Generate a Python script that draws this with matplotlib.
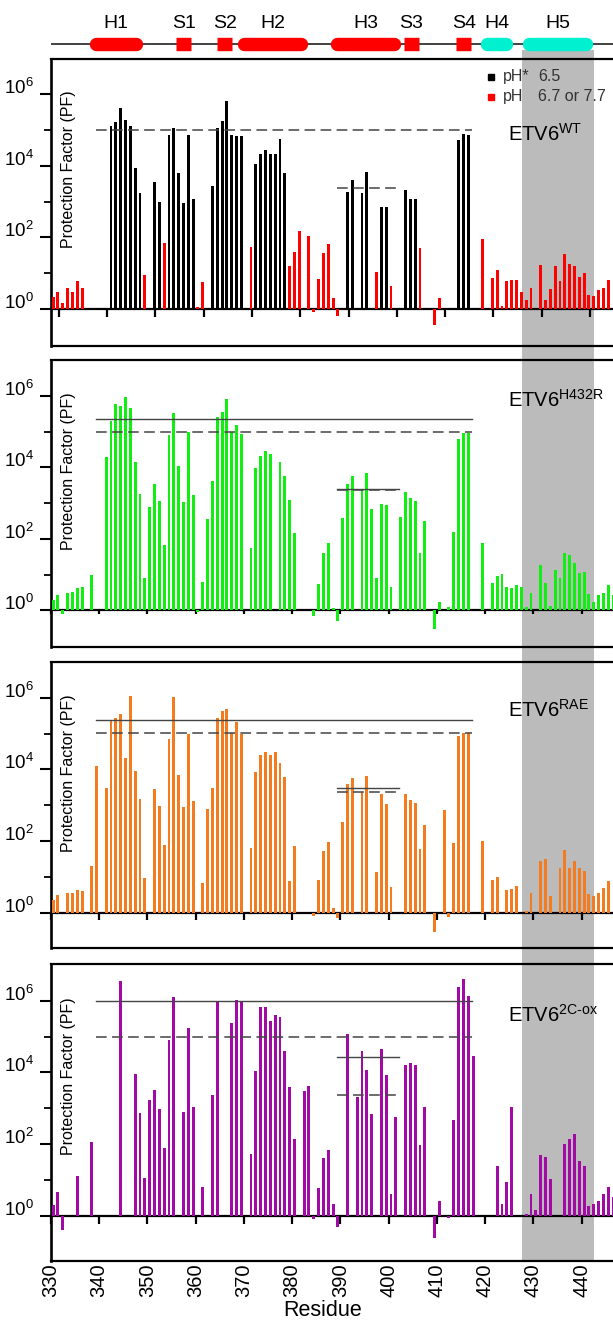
import matplotlib
matplotlib.use("Agg")
import matplotlib.pyplot as plt
import numpy as np

plt.rcParams['font.family'] = ['Liberation Sans', 'DejaVu Sans']
plt.rcParams['mathtext.fontset'] = 'custom'
plt.rcParams['mathtext.rm'] = 'Liberation Sans'
plt.rcParams['mathtext.it'] = 'Liberation Sans:italic'
plt.rcParams['mathtext.bf'] = 'Liberation Sans:bold'
plt.rcParams['mathtext.default'] = 'regular'

# ---------------- data: log10(protection factor) per residue ----------------
wt_ph65_res = [342, 343, 344, 345, 346, 347, 348, 351, 352, 354, 355, 356, 357, 358, 359,
               363, 364, 365, 366, 367, 368, 369, 372, 373, 374, 375, 376, 377, 378,
               391, 392, 394, 395, 398, 399, 403, 404, 405, 414, 415, 416]
wt_ph65_logpf = [5.11, 5.23, 5.60, 5.27, 5.12, 3.93, 3.25, 3.55, 3.00, 4.86, 5.06, 3.79, 2.97, 4.87, 3.07,
                 3.43, 5.06, 5.26, 5.80, 4.86, 4.84, 4.84, 4.05, 4.32, 4.44, 4.32, 4.32, 4.74, 3.80,
                 3.26, 3.60, 3.23, 3.83, 2.86, 2.86, 3.32, 3.07, 3.07, 4.72, 4.90, 4.87]

wt_ph77_res = [330, 331, 332, 333, 334, 335, 336, 349, 353, 360, 361, 371, 379, 380, 381, 383, 384,
               385, 386, 387, 388, 389, 397, 400, 406, 409, 410, 419, 421, 422, 423, 424, 425,
               426, 427, 428, 429, 431, 432, 433, 434, 435, 436, 437, 438, 439, 440, 441, 442,
               443, 444, 445]
wt_ph77_logpf = [0.33, 0.48, 0.16, 0.58, 0.47, 0.78, 0.58, 0.95, 1.85, 0.05, 0.76, 1.74, 1.21, 1.60,
                 2.19, 2.04, -0.09, 0.84, 1.57, 1.83, 0.32, -0.19, 1.04, 0.65, 1.71, -0.45, 0.30,
                 1.97, 0.86, 1.09, 0.08, 0.78, 0.81, 0.81, 0.47, 0.24, 0.60, 1.23, 0.24, 0.56,
                 1.21, 0.78, 1.54, 1.25, 1.21, 0.90, 1.02, 0.39, 0.37, 0.53, 0.60, 0.81]

h432r_res = [330, 331, 332, 333, 334, 335, 336, 338, 341, 342, 343, 344, 345, 346, 347, 348, 349,
             350, 351, 352, 353, 354, 355, 356, 357, 358, 359, 360, 361, 362, 363, 364, 365, 366,
             367, 368, 369, 371, 372, 373, 374, 375, 377, 378, 379, 380, 384, 385, 386, 387, 388,
             389, 390, 391, 392, 394, 395, 396, 397, 398, 399, 400, 402, 403, 404, 405, 406, 407,
             409, 410, 412, 413, 414, 415, 416, 419, 421, 422, 423, 424, 425, 426, 427, 428, 429,
             431, 432, 433, 434, 435, 436, 437, 438, 439, 440, 441, 442, 443, 444, 445, 446]
h432r_logpf = [0.30, 0.43, -0.11, 0.50, 0.51, 0.63, 0.67, 1.00, 4.28, 5.30, 5.77, 5.72, 5.98, 5.66,
               4.16, 3.26, 0.90, 2.89, 3.54, 3.05, 1.84, 4.91, 5.52, 4.05, 3.04, 4.99, 3.22, -0.05,
               0.81, 2.55, 3.61, 5.41, 5.55, 5.92, 4.99, 5.18, 4.92, 1.74, 3.98, 4.32, 4.45, 4.36,
               4.16, 3.76, 3.08, 2.16, -0.16, 0.74, 1.62, 1.88, 0.07, -0.28, 2.59, 3.54, 3.75,
               3.36, 3.83, 2.83, 0.91, 2.99, 2.95, 0.67, 2.60, 3.30, 3.14, 3.07, 1.62, 2.50,
               -0.53, 0.24, 0.09, 2.20, 4.80, 4.95, 4.95, 1.88, 0.78, 0.97, 1.03, 0.66, 0.64,
               0.70, 0.66, 0.11, 0.48, 1.28, 0.76, 0.13, 1.14, 0.92, 1.60, 1.54, 1.32, 1.06,
               1.07, 0.47, 0.25, 0.44, 0.50, 0.71, 0.44]

rae_res = [330, 331, 333, 334, 335, 336, 338, 339, 341, 342, 343, 344, 345, 346, 347, 348, 349,
           351, 352, 353, 354, 355, 356, 357, 358, 359, 361, 362, 363, 364, 365, 366, 367, 368,
           369, 371, 372, 373, 374, 375, 376, 377, 378, 379, 380, 384, 385, 386, 387, 388, 389,
           390, 391, 392, 394, 395, 397, 398, 399, 400, 403, 404, 405, 406, 407, 409, 411, 412,
           413, 414, 415, 416, 419, 421, 422, 424, 425, 426, 428, 429, 431, 432, 433, 435, 436,
           437, 438, 439, 440, 441, 442, 443, 444, 445]
rae_logpf = [0.35, 0.49, 0.54, 0.55, 0.63, 0.61, 1.30, 4.09, 3.48, 5.37, 5.44, 5.55, 4.31, 6.05,
             3.96, 3.18, 0.97, 3.45, 2.97, 1.88, 4.85, 6.02, 3.83, 2.94, 5.00, 3.13, 0.82, 2.90,
             3.49, 5.44, 5.64, 5.68, 5.03, 5.31, 5.00, 1.81, 3.93, 4.39, 4.49, 4.40, 4.49, 4.18,
             3.78, 0.89, 1.86, -0.09, 0.91, 1.72, 1.96, 0.14, -0.16, 2.52, 3.58, 3.76, 3.38,
             3.82, 1.14, 3.32, 3.02, 0.71, 3.32, 3.14, 3.05, 1.78, 2.46, -0.55, 2.86, -0.11,
             1.93, 4.94, 5.01, 5.01, 2.00, 0.90, 0.98, 0.63, 0.65, 0.75, 0.05, 0.56, 1.45, 1.51,
             0.45, 1.25, 1.75, 1.25, 1.44, 1.25, 1.17, 0.52, 0.46, 0.54, 0.69, 0.88]

ox_res = [330, 331, 332, 335, 338, 344, 347, 348, 349, 350, 351, 352, 353, 354, 355, 357, 358, 359,
          361, 363, 364, 367, 368, 369, 371, 372, 373, 374, 375, 376, 377, 378, 379, 380, 382, 383,
          384, 385, 386, 387, 388, 389, 391, 393, 394, 395, 396, 398, 399, 400, 401, 403, 404,
          405, 406, 407, 409, 410, 412, 413, 414, 415, 416, 417, 422, 423, 424, 425, 428, 429,
          430, 431, 432, 433, 436, 437, 438, 439, 440, 441, 442, 443, 444, 445, 446]
ox_logpf = [0.32, 0.67, -0.38, 1.11, 2.06, 6.55, 3.96, 2.88, 1.06, 3.24, 3.51, 2.97, 1.89, 4.89,
            6.11, 2.90, 5.25, 3.04, 0.80, 3.38, 6.00, 5.38, 6.02, 6.00, 1.74, 4.04, 5.83, 5.81,
            5.43, 5.59, 5.55, 4.59, 3.59, 2.15, 3.49, 3.61, -0.08, 0.77, 1.61, 1.85, 0.34, -0.30,
            5.07, 3.32, 4.60, 4.06, 2.84, 4.66, 3.93, 0.61, 2.76, 4.20, 4.26, 4.21, 1.98, 3.04,
            -0.60, 0.41, -0.06, 2.67, 6.37, 6.61, 6.12, 4.46, 1.39, 0.34, 0.94, 3.03, 0.07, 0.62,
            0.17, 1.71, 1.64, 1.03, 2.01, 2.14, 2.28, 1.54, 1.39, 0.28, 0.35, 0.42, 0.62, 0.80,
            0.52]

# reference (threshold) levels, log10 PF
wt_solid_levels = []
wt_dashed_levels = [5.00, 3.37]
h432r_solid_levels = [5.36, 3.40]
h432r_dashed_levels = [5.00, 3.37]
rae_solid_levels = [5.39, 3.48]
rae_dashed_levels = [5.02, 3.38]
ox_solid_levels = [6.00, 4.43]
ox_dashed_levels = [5.00, 3.37]
# residue span of the long (first) and short (second) reference lines
ref_spans = [(339.4, 417.2), (389.4, 402.2)]

# secondary structure
ss_names = ['H1', 'S1', 'S2', 'H2', 'H3', 'S3', 'S4', 'H4', 'H5']
ss_start = [338.1, 356.0, 364.5, 368.6, 387.9, 403.2, 414.0, 419.1, 427.8]
ss_end = [349.1, 359.1, 367.6, 383.3, 402.6, 406.3, 417.1, 425.8, 442.3]
ss_kind = ['helix', 'strand', 'strand', 'helix', 'helix', 'strand', 'strand', 'helix', 'helix']
ss_colour = ['#ff0000'] * 7 + ['#00f0d0'] * 2
grey_region = (427.6, 442.5)

x_ticks = list(range(330, 441, 10))

# ---------------- layout ----------------
W_PX, H_PX = 613, 1321
fig = plt.figure(figsize=(W_PX / 100, H_PX / 100), dpi=100)
LEFT_PX = 50.7
XLIM = (330, 330 + (W_PX - LEFT_PX) / 4.827)


def rect(top_px, bot_px):
    return [LEFT_PX / W_PX, 1 - bot_px / H_PX, 1 - LEFT_PX / W_PX, (bot_px - top_px) / H_PX]


# grey background band
bg = fig.add_axes(rect(50, 1261), zorder=0)
bg.set_xlim(XLIM)
bg.axis('off')
bg.axvspan(*grey_region, color='#bbbbbb', lw=0)

# header with secondary structure
hax = fig.add_axes(rect(0, 58), zorder=1)
hax.set_xlim(XLIM)
hax.set_ylim(58, 0)
hax.axis('off')
LINE_Y = 44
hax.plot([330, XLIM[1]], [LINE_Y, LINE_Y], color='#333333', lw=1.3, solid_capstyle='butt')
h_pt = 13.4 * 72 / 100
cap = (13.4 / 2) / 4.827
for name, s, e, kind, col in zip(ss_names, ss_start, ss_end, ss_kind, ss_colour):
    if kind == 'helix':
        hax.plot([s + cap, e - cap], [LINE_Y, LINE_Y], color=col, lw=h_pt, solid_capstyle='round')
    else:
        hax.plot([s, e], [LINE_Y, LINE_Y], color=col, lw=h_pt, solid_capstyle='butt')
    hax.text((s + e) / 2, 23, name, ha='center', va='center', fontsize=14)

panels = [
    dict(top=59, bot=346, ylim=(-1.03, 6.98), series=[(wt_ph65_res, wt_ph65_logpf, '#000000'),
                                                     (wt_ph77_res, wt_ph77_logpf, '#ff0000')],
         solid=wt_solid_levels, dashed=wt_dashed_levels, label='ETV6$^{WT}$', label_y=4.69,
         tick_shift=1.7, tick_len=6),
    dict(top=360, bot=647, ylim=(-1.02, 7.0), series=[(h432r_res, h432r_logpf, '#11ee11')],
         solid=h432r_solid_levels, dashed=h432r_dashed_levels, label='ETV6$^{H432R}$', label_y=5.68,
         tick_shift=0.0, tick_len=3),
    dict(top=662, bot=948, ylim=(-0.99, 7.0), series=[(rae_res, rae_logpf, '#f47c20')],
         solid=rae_solid_levels, dashed=rae_dashed_levels, label='ETV6$^{RAE}$', label_y=5.47,
         tick_shift=0.0, tick_len=5),
    dict(top=964, bot=1261, ylim=(-1.25, 7.02), series=[(ox_res, ox_logpf, '#a20aa6')],
         solid=ox_solid_levels, dashed=ox_dashed_levels, label='ETV6$^{2C\\text{-}ox}$', label_y=5.41,
         tick_shift=0.0, tick_len=6),
]

ytick_labels = [r'$\mathregular{10^{%d}}$' % v for v in (0, 2, 4, 6)]

axes = []
for i, p in enumerate(panels):
    ax = fig.add_axes(rect(p['top'], p['bot']), zorder=2)
    ax.set_facecolor('none')
    ax.set_xlim(XLIM)
    ax.set_ylim(p['ylim'])
    for res, vals, col in p['series']:
        ax.bar(np.asarray(res) + 0.2, vals, width=0.6, align='edge', color=col, lw=0, zorder=3)
    for lvl, span in zip(p['solid'], ref_spans):
        ax.plot(span, [lvl, lvl], color='#444444', lw=1.0, zorder=4)
    for lvl, span in zip(p['dashed'], ref_spans):
        ax.plot(span, [lvl, lvl], color='#444444', lw=1.1, ls=(0, (7, 3.5)), zorder=4)

    ax.spines['right'].set_visible(False)
    ax.spines['bottom'].set_position(('data', 0))
    ax.spines['bottom'].set_linewidth(1.6)
    ax.spines['left'].set_linewidth(1.9)
    ax.spines['top'].set_linewidth(1.6)
    ax.set_xticks(np.asarray(x_ticks) + p['tick_shift'])
    ax.tick_params(axis='x', direction='out', length=p['tick_len'], width=1.6, labelbottom=False)
    ax.set_yticks([0, 2, 4, 6])
    ax.set_yticklabels(ytick_labels)
    ax.set_yticks([1, 3, 5], minor=True)
    ax.tick_params(axis='y', which='major', direction='out', length=8, width=1.5,
                   labelsize=13.5, pad=4)
    ax.tick_params(axis='y', which='minor', direction='out', length=5, width=1.3)
    for lbl in ax.get_yticklabels():
        lbl.set_verticalalignment('baseline')

    ax.text(333.6, 3.9, 'Protection Factor (PF)', rotation=90, ha='center', va='center',
            fontsize=11.5)
    ax.text(424.7, p['label_y'], p['label'], ha='left', va='baseline', fontsize=14.5)

    if i < 3:
        ax.plot([0, 1], [0, 0], transform=ax.transAxes, color='k', lw=1.6, clip_on=False,
                solid_capstyle='butt', zorder=5)
    else:
        sec = ax.secondary_xaxis('bottom')
        sec.set_xticks(x_ticks)
        sec.set_xticklabels([str(t) for t in x_ticks])
        sec.tick_params(length=0, labelsize=14.5, pad=2, labelrotation=90)
        sec.spines['bottom'].set_linewidth(1.6)
    axes.append(ax)

# legend in the top panel
ax1 = axes[0]
ax1.plot([421.3], [6.49], 's', color='#000000', ms=4.2)
ax1.plot([421.3], [5.93], 's', color='#ff0000', ms=4.2)
ax1.text(423.7, 6.49, 'pH*', color='#333333', fontsize=11.5, va='center', ha='left')
ax1.text(431.0, 6.49, '6.5', color='#333333', fontsize=11.5, va='center', ha='left')
ax1.text(423.7, 5.93, 'pH', color='#333333', fontsize=11.5, va='center', ha='left')
ax1.text(431.0, 5.93, '6.7 or 7.7', color='#333333', fontsize=11.5, va='center', ha='left')

fig.text(323 / W_PX, 1 - 1311 / H_PX, 'Residue', ha='center', va='center', fontsize=15.5)

fig.savefig('out.png', dpi=100)
